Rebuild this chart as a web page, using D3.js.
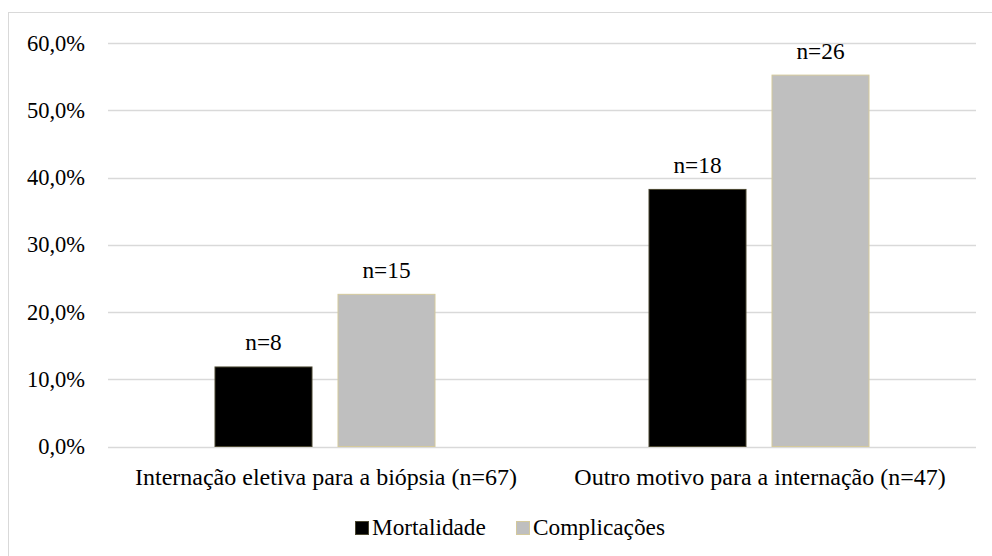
<!DOCTYPE html>
<html>
<head>
<meta charset="utf-8">
<script src="https://cdn.jsdelivr.net/npm/d3@7"></script>
</head>
<body style="margin:0">
<svg id="chart" width="992" height="556"></svg>
<script>
// Categories (reason for admission) and series
const categories = [
  "Internação eletiva para a biópsia (n=67)",
  "Outro motivo para a internação (n=47)"
];
const seriesNames = ["Mortalidade", "Complicações"];
// Percentages per category, per series
const mortalidade = [11.9, 38.3];
const complicacoes = [22.7, 55.3];
// Counts shown above each bar
const mortalidadeN = [8, 18];
const complicacoesN = [15, 26];
const yTicks = [0, 10, 20, 30, 40, 50, 60];

const fills = ["#000000", "#bfbfbf"];
const strokes = ["#4a4630", "#d4c99c"];
const FONT = "Liberation Serif";

const svg = d3.select("#chart");
const W = 992, H = 556;
const m = { left: 108, right: 16, top: 43, bottom: 109.5 };
const innerW = W - m.left - m.right;
const innerH = H - m.top - m.bottom;

// Outer chart frame
svg.append("rect")
  .attr("x", 8.5).attr("y", 12.5)
  .attr("width", 1000).attr("height", 600)
  .attr("fill", "none").attr("stroke", "#d9d9d9").attr("stroke-width", 1);

const g = svg.append("g").attr("transform", `translate(${m.left},${m.top})`);

const x0 = d3.scaleBand().domain(categories).range([0, innerW]).paddingInner(0).paddingOuter(0);
const x1 = d3.scaleBand().domain(seriesNames)
  .range([106.5, x0.bandwidth() - 106.5]).paddingInner(25 / 221 * 2 / (1 + 25 / 221)).paddingOuter(0);
const y = d3.scaleLinear().domain([0, 60]).range([innerH, 0]);

// Gridlines
g.append("g")
  .selectAll("line").data(yTicks).join("line")
  .attr("x1", 0).attr("x2", innerW)
  .attr("y1", d => Math.round(y(d)) + 0.5).attr("y2", d => Math.round(y(d)) + 0.5)
  .attr("stroke", "#d9d9d9").attr("stroke-width", 1.4);

// Y axis labels
const yAxis = d3.axisLeft(y).tickValues(yTicks).tickSize(0).tickPadding(23)
  .tickFormat(d => d3.format(".1f")(d).replace(".", ",") + "%");
const ya = g.append("g").call(yAxis);
ya.select(".domain").remove();
ya.attr("font-family", null).attr("font-size", null);
ya.selectAll("text")
  .attr("font-family", FONT)
  .attr("font-size", 22.5)
  .attr("fill", "#000");

// Bars
const rows = categories.map((c, i) => ({
  cat: c,
  vals: [
    { s: seriesNames[0], v: mortalidade[i], n: mortalidadeN[i], k: 0 },
    { s: seriesNames[1], v: complicacoes[i], n: complicacoesN[i], k: 1 }
  ]
}));

const grp = g.selectAll("g.cat").data(rows).join("g")
  .attr("class", "cat")
  .attr("transform", d => `translate(${x0(d.cat)},0)`);

grp.selectAll("rect").data(d => d.vals).join("rect")
  .attr("x", d => x1(d.s) + 0.5)
  .attr("y", d => y(d.v) + 0.5)
  .attr("width", x1.bandwidth() - 1)
  .attr("height", d => innerH - y(d.v) - 0.5)
  .attr("fill", d => fills[d.k])
  .attr("stroke", d => strokes[d.k])
  .attr("stroke-width", 1);

grp.selectAll("text.lbl").data(d => d.vals).join("text")
  .attr("class", "lbl")
  .attr("x", d => x1(d.s) + x1.bandwidth() / 2)
  .attr("y", d => y(d.v) - 16)
  .attr("text-anchor", "middle")
  .attr("font-family", FONT)
  .attr("font-size", 23.3)
  .text(d => "n=" + d.n);

// Category labels
g.append("g").selectAll("text").data(categories).join("text")
  .attr("x", d => x0(d) + x0.bandwidth() / 2 + 1)
  .attr("y", innerH + 38)
  .attr("text-anchor", "middle")
  .attr("font-family", FONT)
  .attr("font-size", 24)
  .text(d => d);

// Legend
const legend = svg.append("g");
const legendItems = [
  { name: seriesNames[0], x: 355, k: 0 },
  { name: seriesNames[1], x: 516, k: 1 }
];
legend.selectAll("rect").data(legendItems).join("rect")
  .attr("x", d => d.x + 0.5).attr("y", 521.5)
  .attr("width", 13).attr("height", 13)
  .attr("fill", d => fills[d.k]).attr("stroke", d => strokes[d.k]);
legend.selectAll("text").data(legendItems).join("text")
  .attr("x", d => d.x + 17).attr("y", 535)
  .attr("font-family", FONT)
  .attr("font-size", 23.3)
  .text(d => d.name);
</script>
</body>
</html>
